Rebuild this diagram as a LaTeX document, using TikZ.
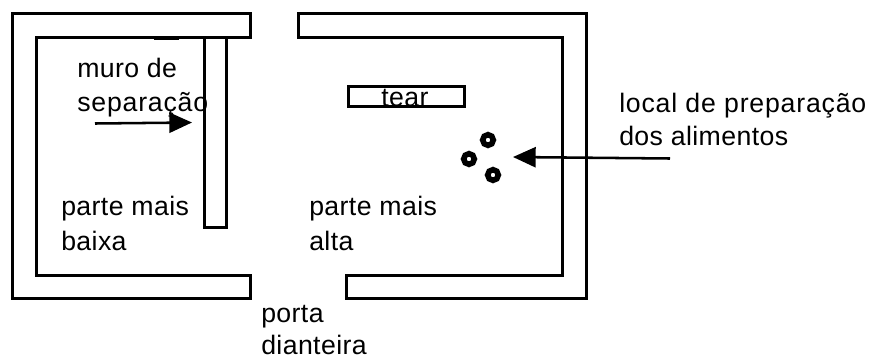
\documentclass[tikz,border=0pt]{standalone}
\usepackage{fontspec}
\setmainfont[LetterSpace=1.5]{Liberation Sans}
\usetikzlibrary{arrows.meta}
\tikzset{
  wall/.style={line width=2.25pt,line cap=butt,line join=miter},
  lbl/.style={inner sep=0pt,anchor=base west,font=\fontsize{20pt}{24pt}\selectfont},
  widelbl/.style={lbl,font=\fontsize{20pt}{24pt}\selectfont\addfontfeature{LetterSpace=3}},
  pointer/.style={line width=1.9pt,-{Triangle[length=17pt,width=15pt]}},
  stove/.style={circle,draw,line width=4.2pt,fill=white,minimum size=8pt,inner sep=0pt,outer sep=0pt}
}
\begin{document}
\begin{tikzpicture}[x=0.75pt,y=-0.75pt]
\useasboundingbox (0,0) rectangle (872,358);
\fill[white] (0,0) rectangle (872,358);
\draw[wall] (250,37) -- (36,37) -- (36,275) -- (250,275) -- (250,298) -- (12,298) -- (12,13) -- (250,13) -- cycle;
\draw[wall] (298,13) -- (586,13) -- (586,298) -- (346,298) -- (346,275) -- (562,275) -- (562,37) -- (298,37) -- cycle;
\draw[wall] (204,37) -- (204,227) -- (226,227) -- (226,37);
\draw[wall] (154,38.5) -- (179,38.5);
\node[draw,wall,minimum width=87pt,minimum height=15.5pt,inner sep=0pt,outer sep=0pt] (loom) at (406.5,96.5) {};
\begin{scope}
\clip (340,85) rectangle (470,108);
\node[lbl] (tear) at (381,106) {tear};
\end{scope}
\node[lbl] (muro1) at (77,77) {muro de};
\node[widelbl] (muro2) at (77,111) {separação};
\node[lbl] (baixa1) at (61,215) {parte mais};
\node[lbl] (baixa2) at (61,250) {baixa};
\node[lbl] (alta1) at (309,215) {parte mais};
\node[lbl] (alta2) at (309,250) {alta};
\node[lbl] (porta1) at (261,322) {porta};
\node[lbl] (porta2) at (261,354) {dianteira};
\node[widelbl] (local1) at (619,112) {local de preparação};
\node[lbl] (local2) at (619,145) {dos alimentos};
\node[stove] (s1) at (488,140) {};
\node[stove] (s2) at (469,159) {};
\node[stove] (s3) at (493,175) {};
\coordinate (a1) at (95,123.5);
\coordinate (a2) at (192,122.5);
\coordinate (b1) at (670,158.5);
\coordinate (b2) at (513,157);
\draw[pointer] (a1) -- (a2);
\draw[pointer] (b1) -- (b2);
\end{tikzpicture}
\end{document}
